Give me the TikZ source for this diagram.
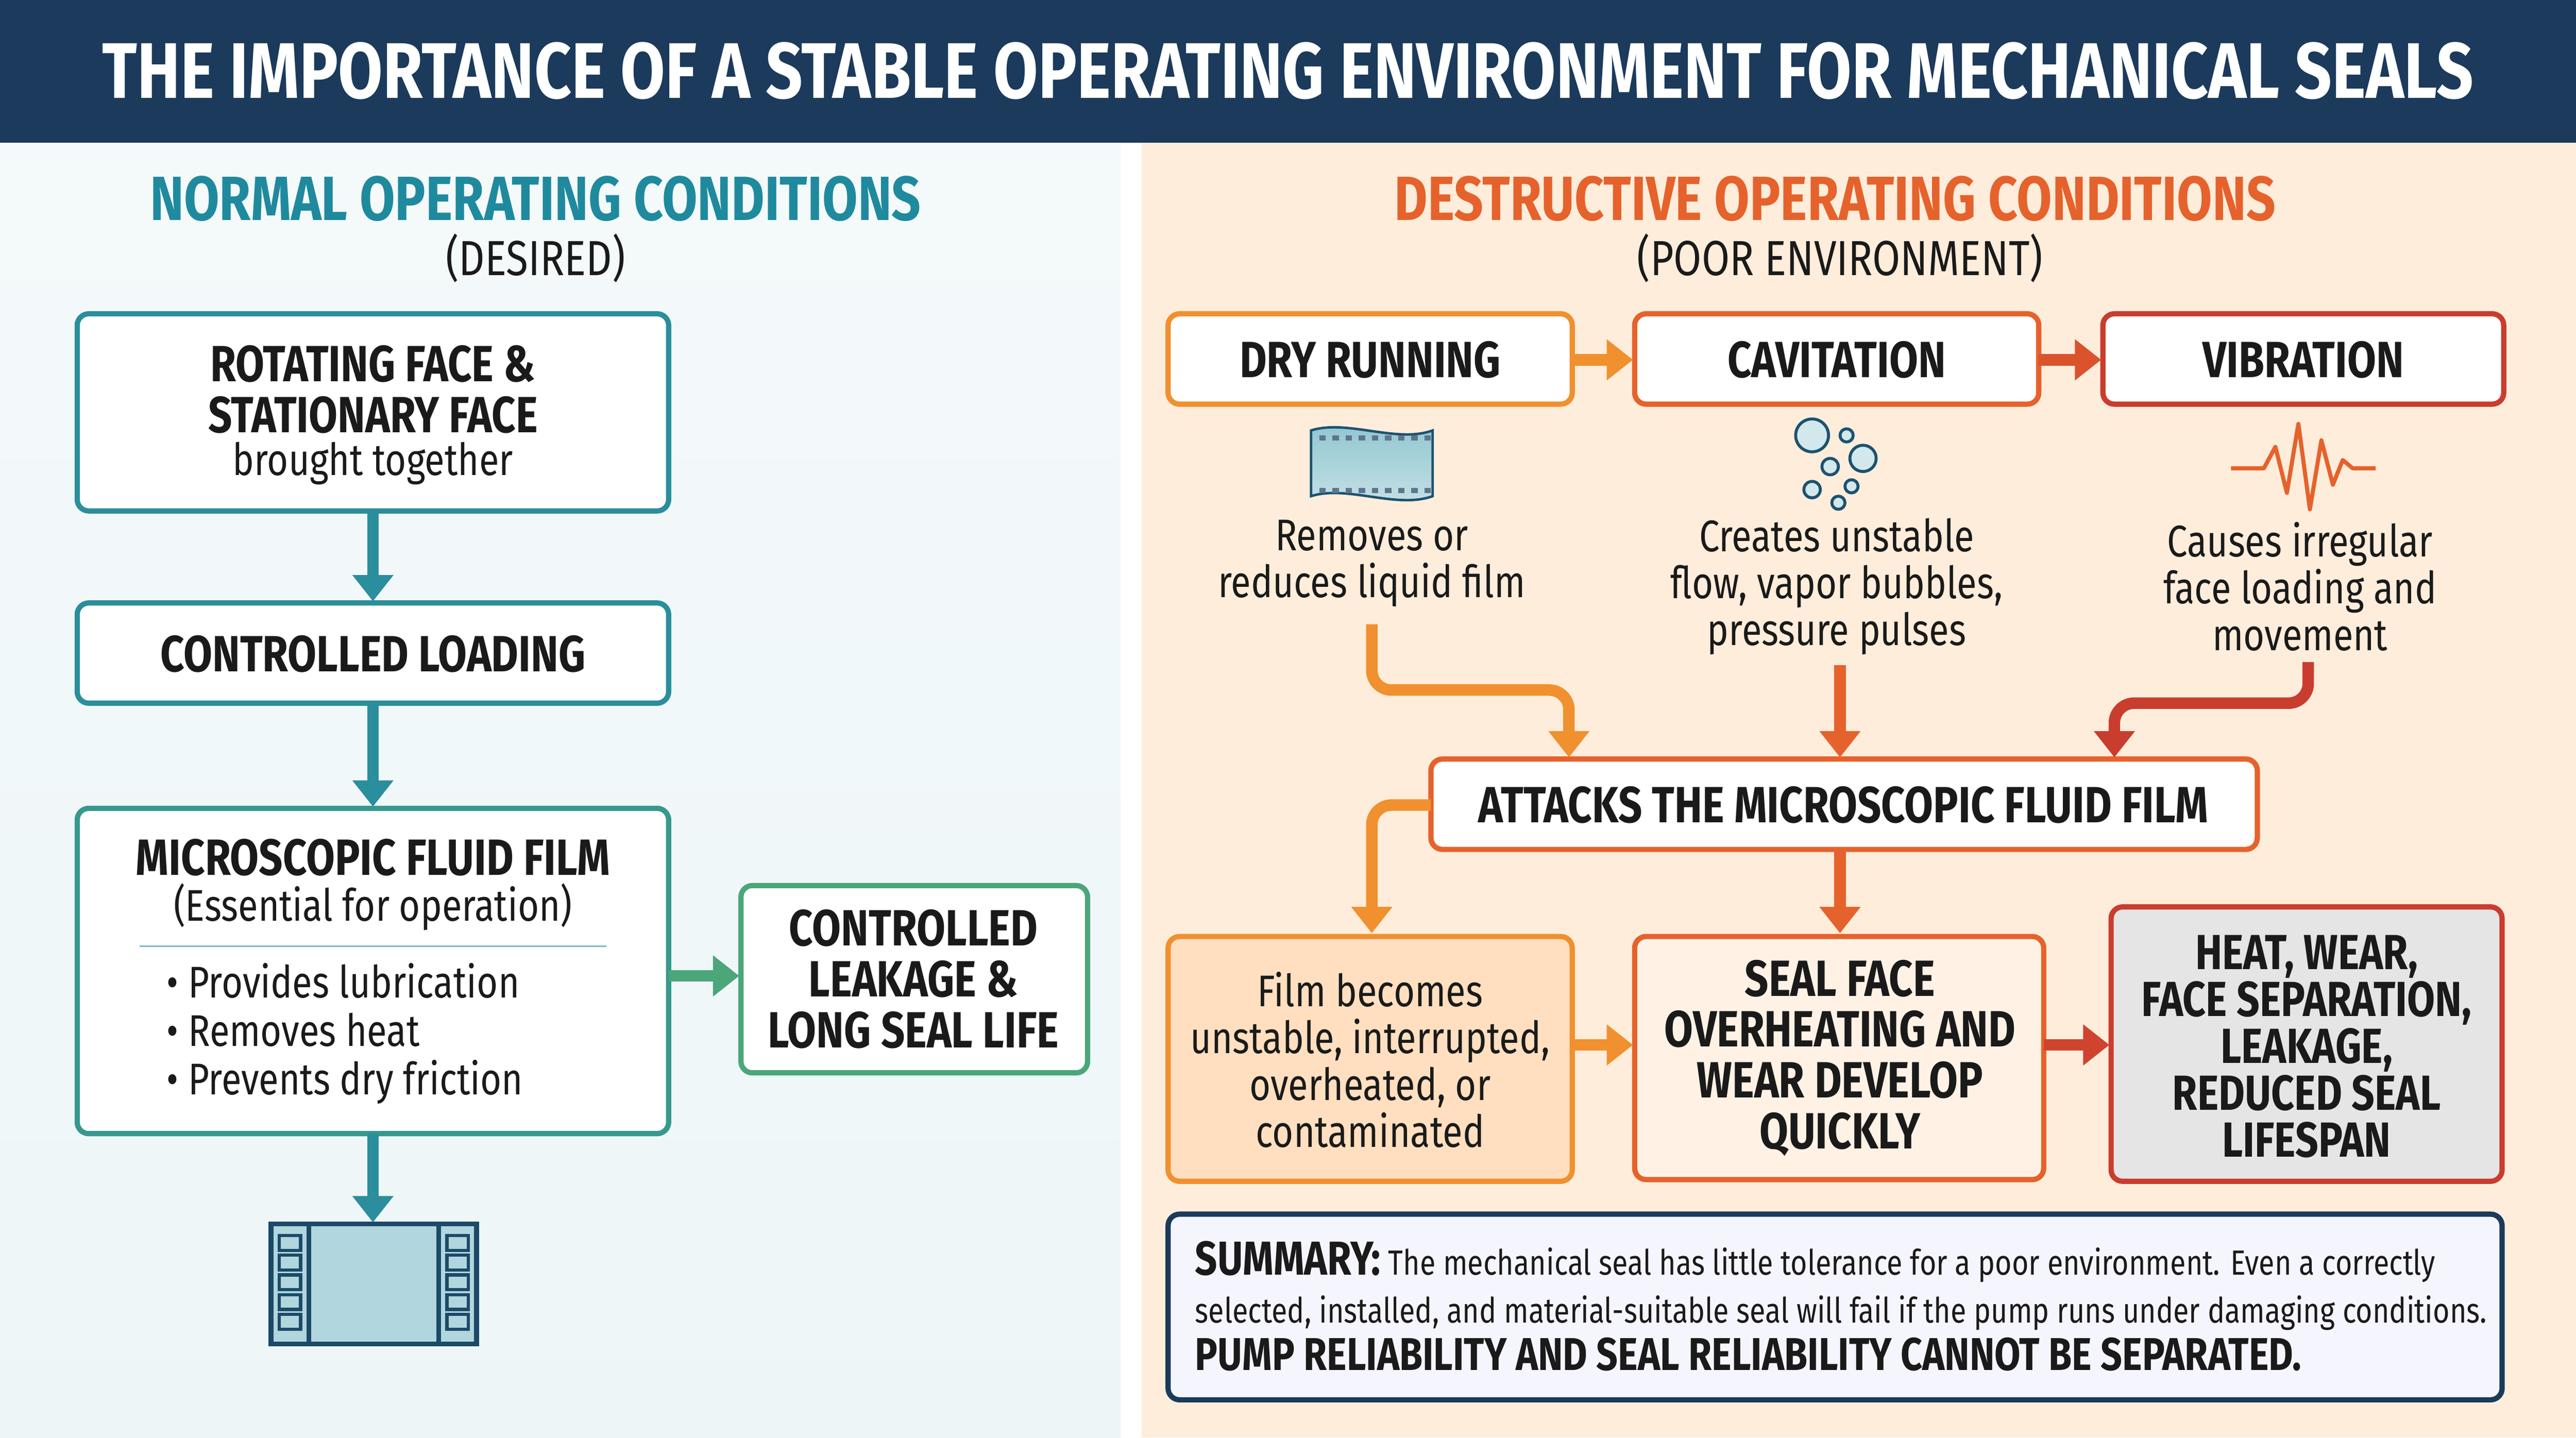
\documentclass[tikz,border=0pt]{standalone}
\usepackage{fontspec}
\setmainfont{Fira Sans}[FakeStretch=0.82]
\usetikzlibrary{arrows.meta,shadings}
\definecolor{navy}{HTML}{1B3A5C}
\definecolor{teal}{HTML}{1F8A9E}
\definecolor{tealb}{HTML}{2A8E9C}
\definecolor{grn}{HTML}{4BA67A}
\definecolor{org}{HTML}{F0902E}
\definecolor{orr}{HTML}{E6622C}
\definecolor{rd}{HTML}{C93D2E}
\definecolor{ink}{HTML}{1A1A1A}
\begin{document}
\begin{tikzpicture}[x=1pt,y=-1pt,
  box/.style={draw=#1,line width=3.2pt,rounded corners=7pt,fill=white},
  arr/.style={draw=#1,line width=7pt,-{Triangle[width=24pt,length=16pt]}},
  hd/.style={font=\bfseries\fontsize{31}{31}\selectfont,text=ink,align=center},
  bd/.style={font=\fontsize{27}{28.5}\selectfont,text=ink,align=center}]
\useasboundingbox (0,0) rectangle (1568,875);
% backgrounds
\shade[top color=white!60!teal!12,bottom color=teal!8] (0,87) rectangle (682,875);
\fill[white] (682,87) rectangle (695,875);
\fill[orange!14] (695,87) rectangle (1568,875);
\fill[navy] (0,0) rectangle (1568,87);
\node[text=white,font=\bfseries\fontsize{48}{50}\selectfont,xscale=1.0] (title) at (784,43) {THE IMPORTANCE OF A STABLE OPERATING ENVIRONMENT FOR MECHANICAL SEALS};
% left
\node[text=teal,font=\bfseries\fontsize{38}{40}\selectfont] (lh) at (326,121) {NORMAL OPERATING CONDITIONS};
\node[bd,font=\fontsize{30}{31}\selectfont] (ls) at (326,157) {(DESIRED)};
\draw[box=tealb] (47,191) rectangle (407,311);
\node[hd] (b1) at (227,237) {ROTATING FACE \&\\STATIONARY FACE};
\node[bd] (b1s) at (227,282) {brought together};
\draw[box=tealb] (47,367) rectangle (407,428);
\node[hd] (b2) at (227,398) {CONTROLLED LOADING};
\draw[box=tealb!60!grn] (47,492) rectangle (407,690);
\node[hd] (b3) at (227,522) {MICROSCOPIC FLUID FILM};
\node[bd] (b3s) at (227,552) {(Essential for operation)};
\draw[teal!60,line width=1pt] (85,576) -- (369,576);
\node[bd,align=left,anchor=west] (b3l) at (98,629) {\textbullet\ Provides lubrication\\[1pt]\textbullet\ Removes heat\\[1pt]\textbullet\ Prevents dry friction};
\draw[box=grn] (451,539) rectangle (662,653);
\node[hd] (b4) at (556,596) {CONTROLLED\\LEAKAGE \&\\LONG SEAL LIFE};
\coordinate (a1s) at (227,311); \coordinate (a1e) at (227,366);
\draw[arr=tealb] (a1s) -- (a1e);
\coordinate (a2s) at (227,428); \coordinate (a2e) at (227,491);
\draw[arr=tealb] (a2s) -- (a2e);
\coordinate (a3s) at (407,594); \coordinate (a3e) at (450,594);
\draw[arr=grn] (a3s) -- (a3e);
\coordinate (a4s) at (227,690); \coordinate (a4e) at (227,744);
\draw[arr=tealb] (a4s) -- (a4e);
% film icon
\draw[navy!80!teal,line width=3pt,fill=teal!35] (165,745) rectangle (290,818);
\draw[navy!80!teal,line width=3pt] (188,745) -- (188,818) (267,745) -- (267,818);
\foreach \yy in {752,764,776,788,800} {
  \draw[navy!80!teal,line width=2pt] (170,\yy) rectangle (183,\yy+9);
  \draw[navy!80!teal,line width=2pt] (272,\yy) rectangle (285,\yy+9);}
% right
\node[text=orr,font=\bfseries\fontsize{38}{40}\selectfont] (rh) at (1117,121) {DESTRUCTIVE OPERATING CONDITIONS};
\node[bd,font=\fontsize{30}{31}\selectfont] (rs) at (1120,157) {(POOR ENVIRONMENT)};
\draw[box=org] (711,191) rectangle (957,246);
\node[hd] (dr) at (834,219) {DRY RUNNING};
\draw[box=orr] (995,191) rectangle (1241,246);
\node[hd] (cv) at (1118,219) {CAVITATION};
\draw[box=rd] (1280,191) rectangle (1524,246);
\node[hd] (vb) at (1402,219) {VIBRATION};
\coordinate (c1s) at (957,219); \coordinate (c1e) at (994,219);
\draw[arr=org] (c1s) -- (c1e);
\coordinate (c2s) at (1241,219); \coordinate (c2e) at (1279,219);
\draw[arr=orr!60!rd] (c2s) -- (c2e);
% icons
\shade[top color=teal!50,bottom color=teal!25,draw=navy!70!teal,line width=1.5pt]
  (798,262) .. controls (820,255) and (850,270) .. (872,262) -- (872,302) .. controls (850,310) and (820,295) .. (798,302) -- cycle;
\foreach \xx in {803,811,...,867}{\fill[navy!70] (\xx,265) rectangle (\xx+4,268); \fill[navy!70] (\xx,297) rectangle (\xx+4,300);}
\foreach \p/\r in {{1103,265}/10,{1124,265}/4,{1134,279}/8,{1114,284}/5,{1103,298}/5,{1127,296}/4,{1119,306}/4}
  \draw[navy!70!teal,line width=1.8pt,fill=teal!20] (\p) circle (\r);
\draw[orr,line width=2.5pt,line join=round] (1358,285) -- (1378,285) -- (1385,272) -- (1392,300) -- (1399,258) -- (1406,310) -- (1413,268) -- (1420,295) -- (1426,280) -- (1432,285) -- (1446,285);
\node[bd] (t1) at (835,343) {Removes or\\reduces liquid film};
\node[bd] (t2) at (1118,357) {Creates unstable\\flow, vapor bubbles,\\pressure pulses};
\node[bd] (t3) at (1400,357) {Causes irregular\\face loading and\\movement};
\draw[box=orr] (871,462) rectangle (1374,517);
\node[hd] (at) at (1122,490) {ATTACKS THE MICROSCOPIC FLUID FILM};
\coordinate (d1s) at (835,380); \coordinate (d1m) at (835,420); \coordinate (d1n) at (955,420); \coordinate (d1e) at (955,461);
\draw[arr=org,rounded corners=12pt] (d1s) -- (d1m) -- (d1n) -- (d1e);
\coordinate (d2s) at (1120,405); \coordinate (d2e) at (1120,461);
\draw[arr=orr] (d2s) -- (d2e);
\coordinate (d3s) at (1405,403); \coordinate (d3m) at (1405,428); \coordinate (d3n) at (1287,428); \coordinate (d3e) at (1287,461);
\draw[arr=rd,rounded corners=12pt] (d3s) -- (d3m) -- (d3n) -- (d3e);
\coordinate (e1s) at (871,490); \coordinate (e1m) at (835,490); \coordinate (e1e) at (835,568);
\draw[arr=org,rounded corners=12pt] (e1s) -- (e1m) -- (e1e);
\coordinate (e2s) at (1120,517); \coordinate (e2e) at (1120,568);
\draw[arr=orr] (e2s) -- (e2e);
\draw[box=org,fill=orange!25] (711,570) rectangle (957,719);
\node[bd] (f1) at (834,645) {Film becomes\\unstable, interrupted,\\overheated, or\\contaminated};
\draw[box=orr,fill=orange!10] (995,570) rectangle (1244,718);
\node[hd] (f2) at (1120,644) {SEAL FACE\\OVERHEATING AND\\WEAR DEVELOP\\QUICKLY};
\draw[box=rd,fill=black!10] (1285,552) rectangle (1523,719);
\node[hd,font=\bfseries\fontsize{30}{28.5}\selectfont] (f3) at (1404,637) {HEAT, WEAR,\\FACE SEPARATION,\\LEAKAGE,\\REDUCED SEAL\\LIFESPAN};
\coordinate (g1s) at (957,636); \coordinate (g1e) at (994,636);
\draw[arr=org] (g1s) -- (g1e);
\coordinate (g2s) at (1244,636); \coordinate (g2e) at (1284,636);
\draw[arr=rd!80!orr] (g2s) -- (g2e);
% summary
\draw[draw=navy,line width=3.2pt,rounded corners=7pt,fill=black!5!blue!4] (711,739) rectangle (1523,852);
\node[anchor=west,align=left,text=ink,font=\fontsize{21.3}{29}\selectfont] (sum) at (724,795) {{\bfseries\fontsize{29}{29}\selectfont SUMMARY:} The mechanical seal has little tolerance for a poor environment. Even a correctly\\selected, installed, and material-suitable seal will fail if the pump runs under damaging conditions.\\{\bfseries\fontsize{28}{29}\selectfont PUMP RELIABILITY AND SEAL RELIABILITY CANNOT BE SEPARATED.}};
\end{tikzpicture}
\end{document}
